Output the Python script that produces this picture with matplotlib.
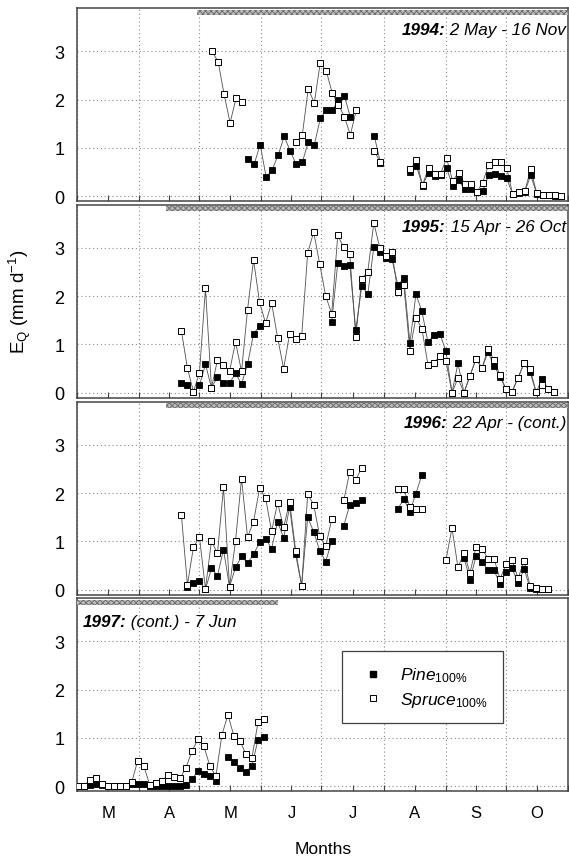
import numpy as np
import matplotlib
matplotlib.use("Agg")
import matplotlib.pyplot as plt
from matplotlib.lines import Line2D
from matplotlib.patches import Rectangle
from matplotlib.transforms import ScaledTranslation

plt.rcParams["font.family"] = ["Liberation Sans", "DejaVu Sans"]
plt.rcParams["mathtext.fontset"] = "custom"
plt.rcParams["mathtext.rm"] = "Liberation Sans"
plt.rcParams["mathtext.it"] = "Liberation Sans:italic"
plt.rcParams["mathtext.bf"] = "Liberation Sans:bold"
plt.rcParams["hatch.linewidth"] = 0.7

nan = np.nan

# x axis: days since 1 March
month_starts = [0, 31, 61, 92, 122, 153, 184, 214, 245]
month_labels = ["M", "A", "M", "J", "J", "A", "S", "O"]
step = 3  # days between samples

# ---- 1994 ----
start_1994 = 67.4
spruce_1994 = [3.00, 2.79, 2.11, 1.52, 2.04, 1.95,
               nan, nan, nan, nan, nan, nan, nan, nan,
               1.12, 1.26, 2.23, 1.93, 2.77, 2.59, 2.13, 1.90, 1.65, 1.27, 1.79,
               nan, nan, 0.93, 0.70, nan, nan, nan, nan,
               0.56, 0.74, 0.23, 0.59, 0.46, 0.46, 0.79, 0.32, 0.49, 0.26, 0.26,
               0.08, 0.28, 0.65, 0.71, 0.70, 0.59, 0.04, 0.08, 0.10, 0.56, 0.06,
               0.02, 0.02, 0.02, 0.01]
pine_1994 = [nan, nan, nan, nan, nan, nan,
             0.77, 0.66, 1.07, 0.39, 0.55, 0.85, 1.24, 0.93,
             0.66, 0.70, 1.12, 1.06, 1.61, 1.79, 1.78, 1.99, 2.08, 1.64, nan,
             nan, nan, 1.24, 0.69, nan, nan, nan, nan,
             0.51, 0.62, 0.22, 0.49, 0.42, 0.44, 0.59, 0.21, 0.33, 0.14, 0.14,
             0.08, 0.11, 0.43, 0.46, 0.41, 0.37, 0.04, 0.07, 0.09, 0.43, 0.05,
             0.02, 0.02, 0.01, 0.01]

# ---- 1995 ----
start_1995 = 52.1
spruce_1995 = [1.28, 0.51, 0.02, 0.41, 2.16, 0.10, 0.68, 0.58, 0.44, 1.05,
               0.44, 1.72, 2.75, 1.87, 1.44, 1.86, 1.14, 0.50, 1.22, 1.12,
               1.17, 2.89, 3.33, 2.67, 2.00, 1.64, 3.26, 3.01, 2.88, 1.16,
               2.36, 2.51, 3.52, 3.00, 2.83, 2.92, 2.08, 2.23, 0.87, 1.55,
               1.33, 0.58, 0.61, 0.77, 0.66, 0.00, 0.30, 0.00, 0.35, 0.70,
               0.51, 0.91, 0.67, 0.36, 0.07, 0.02, 0.31, 0.61, 0.49, 0.01,
               0.15, 0.07, 0.01]
pine_1995 = [0.21, 0.16, 0.02, 0.15, 0.59, 0.10, 0.33, 0.21, 0.20, 0.40,
             0.18, 0.59, 1.22, 1.38, nan, nan, nan, nan, nan, nan,
             nan, nan, nan, nan, nan, 1.47, 2.68, 2.62, 2.65, 1.30,
             2.21, 2.04, 3.01, 2.92, 2.79, 2.78, 2.23, 2.37, 1.03, 2.04,
             1.69, 1.05, 1.19, 1.22, 0.86, 0.00, 0.61, 0.00, 0.35, 0.70,
             0.51, 0.84, 0.56, 0.33, 0.07, 0.02, 0.31, 0.61, 0.42, 0.01,
             0.29, 0.07, 0.01]

# ---- 1996 ----
start_1996 = 52.1
spruce_1996 = [1.54, 0.10, 0.88, 1.09, 0.02, 1.01, 0.75, 2.12, 0.06, 1.01,
               2.30, 1.09, 1.41, 2.10, 1.90, 1.21, 1.80, 1.29, 1.82, 0.81,
               0.08, 1.98, 1.76, 1.11, 0.90, 1.46, nan, 1.85, 2.44, 2.27,
               2.53, nan, nan, nan, nan, nan, 2.09, 2.08, 1.72, 1.68,
               1.68, nan, nan, nan, 0.61, 1.28, 0.46, 0.76, 0.35, 0.89,
               0.85, 0.64, 0.64, 0.22, 0.53, 0.61, 0.24, 0.59, 0.08, 0.03,
               0.01, 0.02]
pine_1996 = [nan, 0.05, 0.14, 0.17, 0.01, 0.44, 0.29, 0.83, 0.06, 0.46,
             0.69, 0.55, 0.73, 0.98, 1.06, 0.85, 1.41, 1.07, 1.71, 0.73,
             0.08, 1.50, 1.20, 0.81, 0.58, 1.01, nan, 1.32, 1.76, 1.80,
             1.85, nan, nan, nan, nan, nan, 1.68, 1.87, 1.62, 1.99,
             2.38, nan, nan, nan, nan, nan, nan, 0.66, 0.21, 0.69,
             0.57, 0.40, 0.40, 0.12, 0.37, 0.44, 0.14, 0.43, 0.03, 0.02,
             0.01, 0.01]

# ---- 1997 ----
start_1997 = 0.3
spruce_1997 = [0.00, 0.01, 0.12, 0.17, 0.05, 0.00, 0.00, 0.00, 0.00, 0.08,
               0.53, 0.42, 0.03, 0.07, 0.10, 0.24, 0.19, 0.16, 0.37, 0.72,
               0.97, 0.83, 0.42, 0.21, 1.06, 1.48, 1.04, 0.94, 0.66, 0.59,
               1.32, 1.39]
pine_1997 = [0.00, 0.01, 0.03, 0.05, 0.03, 0.00, 0.00, 0.00, 0.00, 0.04,
             0.05, 0.04, 0.01, 0.01, 0.01, 0.01, 0.01, 0.01, 0.02, 0.14,
             0.31, 0.26, 0.21, 0.10, nan, 0.61, 0.51, 0.37, 0.30, 0.42,
             0.96, 1.02]

# measurement period bars (days since 1 March)
bars = [(60, 250), (44.3, 250), (44.3, 250), (0, 100.4)]
titles = [("1994:", " 2 May - 16 Nov"), ("1995:", " 15 Apr - 26 Oct"),
          ("1996:", " 22 Apr - (cont.)"), ("1997:", " (cont.) - 7 Jun")]
starts = [start_1994, start_1995, start_1996, start_1997]
pines = [pine_1994, pine_1995, pine_1996, pine_1997]
spruces = [spruce_1994, spruce_1995, spruce_1996, spruce_1997]

W, H = 569, 862
fig = plt.figure(figsize=(W / 100, H / 100), dpi=100)
renderer = fig.canvas.get_renderer()

left, right = 77, 568
tops = [9, 205.5, 402.5, 599]
ph = 193
ymin, ymax = -0.1, 3.9
xmax = 242.8

line_kw = dict(color="#505050", lw=0.6)
mids = [(a + b) / 2 for a, b in zip(month_starts[:-1], month_starts[1:])]

axes = []
for i in range(4):
    ax = fig.add_axes([left / W, 1 - (tops[i] + ph) / H, (right - left) / W, ph / H])
    axes.append(ax)
    x0 = starts[i]
    xs = x0 + step * np.arange(len(pines[i]))
    ax.plot(xs, pines[i], **line_kw, zorder=3)
    ax.plot(xs, spruces[i], **line_kw, zorder=3)
    ax.plot(xs, pines[i], ls="none", marker="s", ms=4.4, mfc="black",
            mec="black", mew=0.6, zorder=4)
    ax.plot(xs, spruces[i], ls="none", marker="s", ms=4.4, mfc="white",
            mec="black", mew=0.7, zorder=5)

    # hatched bar marking the measurement period
    b0, b1 = bars[i]
    ax.add_patch(Rectangle((b0, 3.755), b1 - b0, 0.105, facecolor="#bdbdbd",
                           edgecolor="#6e6e6e", linewidth=0, hatch="xxxxxx",
                           zorder=6, clip_on=True))

    ax.set_xlim(0, xmax)
    ax.set_ylim(ymin, ymax)
    ax.set_yticks([0, 1, 2, 3])
    ax.set_yticklabels(["0", "1", "2", "3"], fontsize=13)
    ax.set_xticks(month_starts)
    ax.set_xticks(mids, minor=True)
    ax.tick_params(axis="x", which="both", direction="in", length=4,
                   width=0.8, color="#404040", pad=10)
    ax.tick_params(axis="y", which="both", direction="in", length=0, pad=9)
    if i < 3:
        ax.set_xticklabels([])
        ax.set_xticklabels([], minor=True)
    else:
        ax.set_xticklabels([""] * len(month_starts))
        ax.set_xticklabels(month_labels, minor=True, fontsize=12)
    ax.grid(True, which="major", ls=(0, (1, 2.5)), color="#8a8a8a", lw=0.8)
    for s in ax.spines.values():
        s.set_color("#454545")
        s.set_linewidth(1.1)

    bold, rest = titles[i]
    tkw = dict(fontsize=12.3, style="italic", va="baseline", zorder=7)
    if i < 3:
        tx, ty = 0.996, 1 - 26 / ph
        t2 = ax.text(tx, ty, rest, transform=ax.transAxes, ha="right", **tkw)
        w = t2.get_window_extent(renderer).width / fig.dpi
        ax.text(tx, ty, bold, transform=ax.transAxes +
                ScaledTranslation(-w, 0, fig.dpi_scale_trans),
                ha="right", weight="bold", **tkw)
    else:
        tx, ty = 0.011, 1 - 28 / ph
        t1 = ax.text(tx, ty, bold, transform=ax.transAxes, ha="left",
                     weight="bold", **tkw)
        w = t1.get_window_extent(renderer).width / fig.dpi
        ax.text(tx, ty, rest, transform=ax.transAxes +
                ScaledTranslation(w, 0, fig.dpi_scale_trans), ha="left", **tkw)

# legend in the last panel
handles = [Line2D([], [], ls="none", marker="s", ms=4.2, mfc="black", mec="black"),
           Line2D([], [], ls="none", marker="s", ms=4.2, mfc="white", mec="black", mew=0.7)]
labels = [r"$\mathit{Pine}_{\mathit{100\%}}$", r"$\mathit{Spruce}_{\mathit{100\%}}$"]
leg = axes[3].legend(handles, labels, loc="upper left",
                     bbox_to_anchor=((342 - left) / (right - left), 1 - (652 - tops[3]) / ph),
                     fontsize=12.5, frameon=True, fancybox=False, edgecolor="#404040",
                     framealpha=1, borderpad=0.85, handletextpad=0.6,
                     borderaxespad=0, labelspacing=0.3, handlelength=1.9)
leg.get_frame().set_linewidth(0.9)

fig.text(20 / W, 1 - 302 / H, r"E$_\mathrm{Q}$ (mm d$^{-1}$)", rotation=90,
         ha="center", va="center", fontsize=13.5)
fig.text(323 / W, 1 - 850 / H, "Months", ha="center", va="center", fontsize=12.5)

fig.savefig("out.png", dpi=100)
